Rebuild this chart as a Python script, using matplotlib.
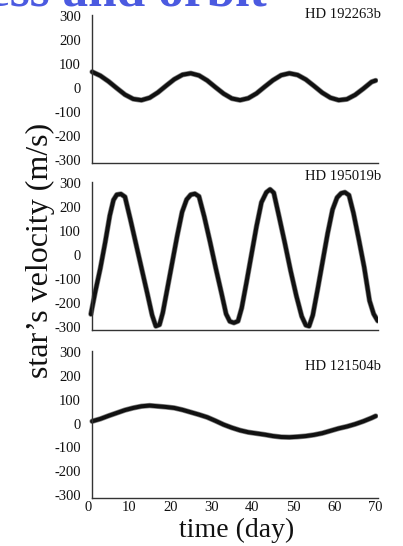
import matplotlib
matplotlib.use("Agg")
import matplotlib.pyplot as plt

# ---------------- data ----------------
names = ["HD 192263b", "HD 195019b", "HD 121504b"]

t1 = [1, 3, 5, 7, 9, 11, 13, 15, 17, 19, 21, 23, 25, 27, 29, 31, 33, 35, 37, 39,
      41, 43, 45, 47, 49, 51, 53, 55, 57, 59, 61, 63, 65, 67, 69, 70]
v1 = [68, 52, 28, 0, -27, -45, -50, -40, -18, 10, 37, 56, 62, 53, 32, 4, -23, -43, -50, -42,
      -22, 6, 33, 54, 62, 55, 36, 9, -19, -40, -50, -46, -28, -2, 26, 32]

t2 = [0.7, 1.8, 3.0, 4.2, 5.3, 6.2, 7.0, 8.0, 9.0, 10.3, 11.7, 13.1, 14.5, 15.6, 16.5, 17.4,
      18.2, 19.3, 20.5, 21.7, 22.9, 24.0, 25.0, 26.0, 27.0, 28.3, 29.7, 31.1, 32.5, 33.6, 34.5,
      35.5, 36.5, 37.4, 38.6, 39.8, 41.0, 42.2, 43.4, 44.3, 45.2, 46.5, 47.9, 49.3, 50.7, 52.0,
      53.0, 53.8, 54.7, 55.9, 57.1, 58.3, 59.5, 60.6, 61.6, 62.5, 63.5, 64.6, 65.9, 67.2, 68.5,
      69.5, 70.5]
v2 = [-246, -150, -55, 55, 165, 230, 252, 255, 243, 150, 45, -60, -165, -250, -296, -290,
      -240, -140, -30, 80, 180, 232, 252, 256, 245, 160, 55, -55, -160, -245, -276,
      -282, -275, -220, -110, 5, 120, 220, 262, 274, 260, 160, 50, -65, -170, -255,
      -292, -296, -250, -140, -25, 90, 190, 240, 258, 262, 250, 175, 65, -50, -190,
      -245, -274]

t3 = [1, 3, 5, 7, 9, 11, 13, 15, 17, 19, 21, 23, 25, 27, 29, 31, 33, 35, 37, 39,
      41, 43, 45, 47, 49, 51, 53, 55, 57, 59, 61, 63, 65, 67, 69, 70]
v3 = [10, 20, 33, 45, 57, 66, 73, 76, 73, 70, 66, 58, 48, 38, 27, 12, -4, -17, -28, -36,
      -41, -46, -52, -56, -57, -55, -52, -47, -40, -30, -20, -12, -2, 10, 24, 32]

yticks = [-300, -200, -100, 0, 100, 200, 300]
xticks = [0, 10, 20, 30, 40, 50, 60, 70]

series = [(t1, v1), (t2, v2), (t3, v3)]

# ---------------- figure ----------------
W, H = 403, 546
fig = plt.figure(figsize=(W / 100, H / 100), dpi=100)
plt.rcParams['font.family'] = ['Liberation Serif', 'DejaVu Serif']

tops = [15, 182, 351]
bots = [163, 330, 498]
label_y = [15, 177, 367]
left_px, right_px = 88, 378

for i, ((t, v), name) in enumerate(zip(series, names)):
    ax = fig.add_axes([left_px / W, 1 - bots[i] / H, (right_px - left_px) / W,
                       (bots[i] - tops[i]) / H])
    ax.set_xlim(0, 70.56)
    ax.set_ylim(-312, 305)
    ax.plot(t, v, color='#8a8a8a', lw=3.9, solid_capstyle='round', solid_joinstyle='round')
    ax.plot(t, v, color='#111111', lw=2.9, solid_capstyle='round', solid_joinstyle='round')
    for s in ['top', 'right']:
        ax.spines[s].set_visible(False)
    ax.spines['left'].set_position(('data', 1))
    ax.spines['bottom'].set_bounds(1, 70.56)
    for s in ['left', 'bottom']:
        ax.spines[s].set_color('#333333')
        ax.spines[s].set_linewidth(1.0)
    ax.set_yticks(yticks)
    ax.set_yticklabels([str(y) for y in yticks])
    ax.tick_params(axis='y', length=0, pad=8, labelsize=10.5, labelcolor='#111111')
    if i < 2:
        ax.set_xticks([])
    else:
        ax.set_xticks(xticks)
        ax.set_xticklabels([str(x) for x in xticks])
        ax.tick_params(axis='x', length=0, pad=2, labelsize=10.5, labelcolor='#111111')
    ax.patch.set_alpha(0)
    fig.text(381 / W, 1 - label_y[i] / H, name, ha='right', va='center',
             fontsize=10.5, color='#111111')

fig.text(48 / W, 1 - 250 / H, "star\u2019s velocity (m/s)", rotation=90,
         rotation_mode='anchor', ha='center', va='baseline', fontsize=23, color='#111111')
fig.text(237 / W, 1 - 537 / H, "time (day)", ha='center', va='baseline',
         fontsize=20, color='#111111')
fig.text(267 / W, 1 - 5 / H, "ess and orbit", ha='right', va='baseline',
         fontsize=37, fontweight='bold', color='#4b5ae0')

fig.savefig("out.png", dpi=100)
